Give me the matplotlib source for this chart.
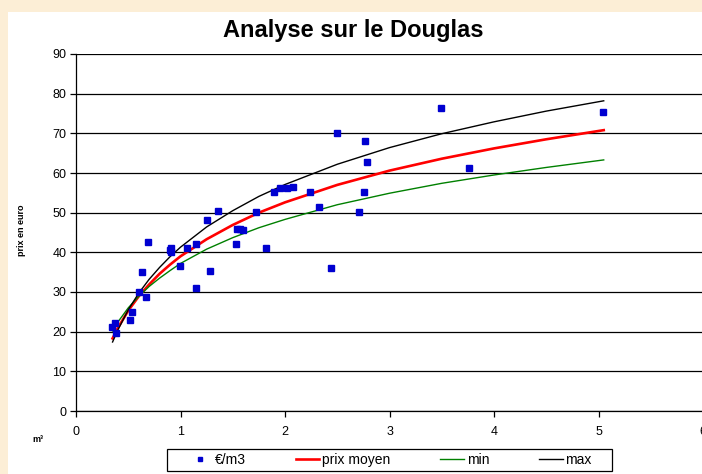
import matplotlib
matplotlib.use("Agg")
import matplotlib.pyplot as plt
from matplotlib.patches import Rectangle
from matplotlib.lines import Line2D

plt.rcParams['font.family'] = ['Liberation Sans', 'DejaVu Sans']

# scatter data: volume (m3) and price (euro/m3)
vol = [0.342, 0.373, 0.38, 0.513, 0.533, 0.603, 0.632, 0.67, 0.689, 0.909,
       0.909, 0.9, 0.998, 1.062, 1.145, 1.148, 1.257, 1.282, 1.362, 1.531,
       1.544, 1.569, 1.595, 1.72, 1.818, 1.891, 1.952, 2.019, 2.08, 2.239,
       2.322, 2.44, 2.494, 2.708, 2.756, 2.769, 2.782, 3.496, 3.757, 5.043]
prix = [21.3, 22.2, 19.7, 22.9, 24.9, 30.0, 35.1, 28.7, 42.7, 41.0,
        40.1, 40.6, 36.6, 41.1, 42.2, 31.0, 48.1, 35.2, 50.5, 42.1,
        46.0, 46.0, 45.7, 50.1, 41.1, 55.1, 56.2, 56.3, 56.5, 55.1,
        51.5, 36.1, 70.2, 50.2, 55.3, 68.1, 62.7, 76.4, 61.3, 75.4]

# curves
curve_x = [0.35, 0.4, 0.5, 0.6, 0.7, 0.8, 0.9, 1.0, 1.25, 1.5, 1.75, 2.0,
           2.5, 3.0, 3.5, 4.0, 4.5, 5.05]
moyen = [18.3, 20.9, 25.3, 28.9, 31.9, 34.6, 36.9, 39.0, 43.3, 46.9, 50.0,
         52.6, 57.0, 60.6, 63.6, 66.2, 68.5, 70.8]
mini = [20.2, 22.4, 26.0, 28.9, 31.4, 33.5, 35.4, 37.2, 40.8, 43.7, 46.2,
        48.3, 52.0, 54.9, 57.4, 59.5, 61.4, 63.3]
maxi = [17.4, 20.4, 25.5, 29.7, 33.2, 36.2, 38.9, 41.3, 46.4, 50.5, 54.1,
        57.1, 62.2, 66.4, 69.9, 72.9, 75.6, 78.2]

x_ticks = [0, 1, 2, 3, 4, 5, 6]
y_ticks = [0, 10, 20, 30, 40, 50, 60, 70, 80, 90]

W, H = 702, 474
fig = plt.figure(figsize=(W / 100, H / 100), dpi=100)
fig.patch.set_facecolor('#FCEED6')
fig.patches.append(Rectangle((8 / W, 0), 1, (H - 12) / H, transform=fig.transFigure,
                             facecolor='white', edgecolor='none', zorder=-5))

ax = fig.add_axes([76 / W, (H - 411) / H, 627 / W, 357 / H])
ax.set_zorder(2)
ax.set_facecolor('white')
ax.set_xlim(0, 6)
ax.set_ylim(0, 90)
ax.set_xticks(x_ticks)
ax.set_yticks(y_ticks)
ax.grid(axis='y', color='black', linewidth=0.9)
ax.set_axisbelow(True)
for s in ['top', 'right']:
    ax.spines[s].set_visible(False)
for s in ['left', 'bottom']:
    ax.spines[s].set_color('black')
    ax.spines[s].set_linewidth(0.9)
ax.tick_params(axis='both', direction='out', length=4, width=0.9, labelsize=9, pad=3)
ax.tick_params(axis='x', pad=7)

ax.plot(vol, prix, linestyle='none', marker='s', markersize=3.8, color='#0000D0',
        label='€/m3', zorder=3)
ax.plot(curve_x, moyen, color='#FF0000', linewidth=1.9, label='prix moyen', zorder=2)
ax.plot(curve_x, mini, color='#008000', linewidth=1.0, label='min', zorder=2)
ax.plot(curve_x, maxi, color='black', linewidth=1.0, label='max', zorder=2)

fig.text(353 / W, 1 - 31 / H, 'Analyse sur le Douglas', ha='center', va='center',
         fontsize=17, fontweight='bold')
fig.text(22 / W, 1 - 230 / H, 'prix en euro', ha='center', va='center', rotation=90,
         fontsize=6.5, fontweight='bold')
fig.text(38 / W, 1 - 440 / H, 'm³', ha='center', va='center', fontsize=6.5,
         fontweight='bold')

# legend box drawn separately for Excel-like padding
fig.patches.append(Rectangle((167 / W, 1 - 471 / H), 445 / W, 22 / H,
                             transform=fig.transFigure, facecolor='white',
                             edgecolor='black', linewidth=0.9, zorder=3))
handles = [Line2D([], [], linestyle='none', marker='s', markersize=3, color='#0000D0'),
           Line2D([], [], color='#FF0000', linewidth=1.9),
           Line2D([], [], color='#008000', linewidth=1.0),
           Line2D([], [], color='black', linewidth=1.0)]
labels = ['€/m3', 'prix moyen', 'min', 'max']
leg = fig.legend(handles, labels, loc='center', bbox_to_anchor=(390 / W, 1 - 460 / H),
                 ncol=4, frameon=False, fontsize=10, handlelength=1.7,
                 columnspacing=3.6, handletextpad=0.2, borderpad=0.2)
leg.set_zorder(4)

fig.savefig('out.png', dpi=100, facecolor=fig.get_facecolor())
